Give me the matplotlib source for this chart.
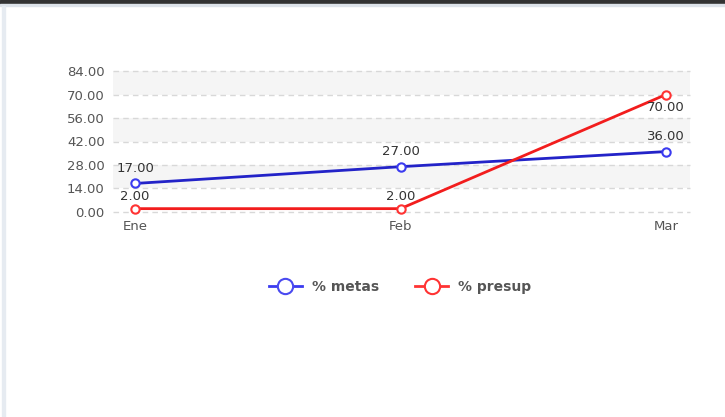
import matplotlib
matplotlib.use("Agg")
import matplotlib.pyplot as plt
from matplotlib.lines import Line2D
from matplotlib.patches import Rectangle

categories = ["Ene", "Feb", "Mar"]
metas = [17, 27, 36]
presup = [2, 2, 70]
yticks = [0, 14, 28, 42, 56, 70, 84]
series_names = ["% metas", "% presup"]

W, H = 725, 417
fig = plt.figure(figsize=(W / 100, H / 100), dpi=100)
fig.patch.set_facecolor("white")

# top dark bar and left border
fig.add_artist(Rectangle((0, 1 - 4 / H), 1, 4 / H, transform=fig.transFigure, color="#333333", zorder=10))
fig.add_artist(Rectangle((0, 1 - 6 / H), 1, 2 / H, transform=fig.transFigure, color="#dde3ea", zorder=10))
fig.add_artist(Rectangle((2 / W, 0), 3 / W, 1 - 6 / H, transform=fig.transFigure, color="#e6ebf1", zorder=10))

left, right = 113 / W, 690 / W
top, bottom = 1 - 71 / H, 1 - 212 / H
ax = fig.add_axes([left, bottom, right - left, top - bottom])
ax.set_facecolor("white")

x = list(range(len(categories)))
ax.set_xlim(-0.083, 2.09)
ax.set_ylim(0, 84)

# alternating bands
for i in range(len(yticks) - 1):
    if i % 2 == 1:
        ax.axhspan(yticks[i], yticks[i + 1], color="#f5f5f5", zorder=0, lw=0)
for t in yticks:
    ax.axhline(t, color="#d8d8d8", lw=1, ls=(0, (4, 3)), zorder=1, clip_on=False)

blue = "#2323c8"
red = "#f21d1d"
ax.plot(x, metas, color=blue, lw=2, marker="o", ms=6, mfc="white", mec="#3b3bf0", mew=1.5, zorder=5, clip_on=False)
ax.plot(x, presup, color=red, lw=2, marker="o", ms=6, mfc="white", mec="#ff3333", mew=1.5, zorder=5, clip_on=False)

lab_kw = dict(fontsize=9.5, color="#333333", ha="center", zorder=6)
for xi, v in zip(x, metas):
    ax.annotate(f"{v:.2f}", (xi, v), xytext=(0, 6), textcoords="offset points", va="bottom", **lab_kw)
for xi, v in zip(x, presup):
    if v > 50:
        ax.annotate(f"{v:.2f}", (xi, v), xytext=(0, -5), textcoords="offset points", va="top", **lab_kw)
    else:
        ax.annotate(f"{v:.2f}", (xi, v), xytext=(0, 4), textcoords="offset points", va="bottom", **lab_kw)

ax.set_yticks(yticks)
ax.set_yticklabels([f"{t:.2f}" for t in yticks], fontsize=9.5, color="#555555")
ax.set_xticks(x)
ax.set_xticklabels(categories, fontsize=9.5, color="#555555")
ax.tick_params(length=0, pad=6)
for s in ax.spines.values():
    s.set_visible(False)

handles = [
    Line2D([0], [0], color="#3b3bf0", lw=2, marker="o", ms=11, mfc="white", mec="#4a4af0", mew=1.5),
    Line2D([0], [0], color="#ff3333", lw=2, marker="o", ms=11, mfc="white", mec="#ff3333", mew=1.5),
]
leg = fig.legend(handles, series_names, loc="center", bbox_to_anchor=(400 / W, 1 - 287 / H),
                 ncol=2, frameon=False, handlelength=2.4, handletextpad=0.7, columnspacing=2.6,
                 prop={"size": 10, "weight": "bold"})
for t in leg.get_texts():
    t.set_color("#555555")

fig.savefig("out.png", dpi=100, facecolor="white")
